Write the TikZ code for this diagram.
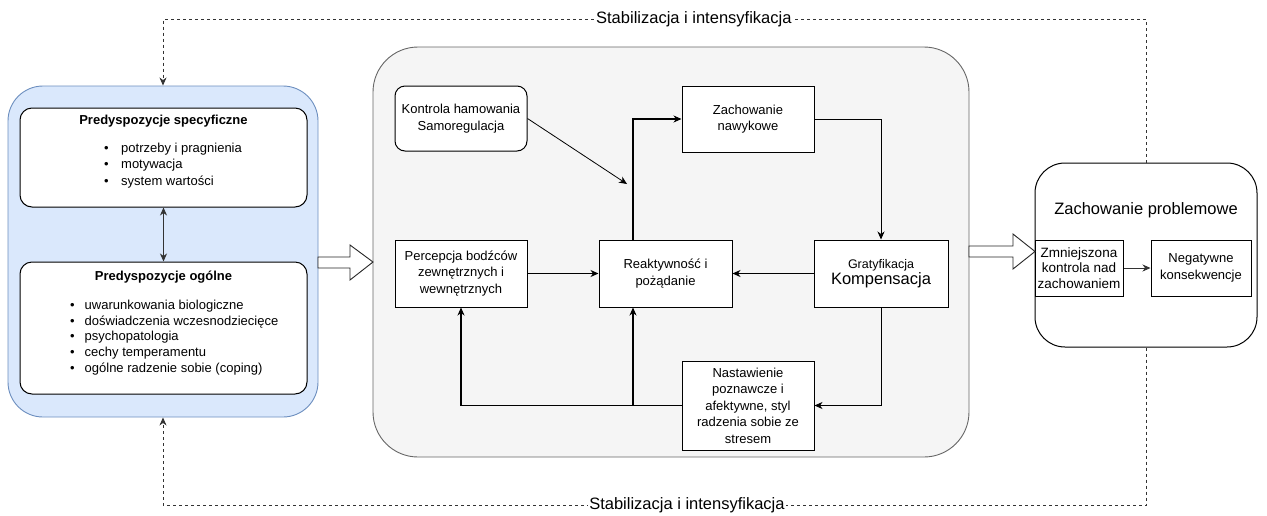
\documentclass[tikz,border=0pt]{standalone}
\usepackage{fontspec}
\setmainfont{Liberation Sans}
\usetikzlibrary{arrows.meta,calc}
\definecolor{bluefill}{HTML}{DAE8FC}
\definecolor{bluedraw}{HTML}{6C8EBF}
\definecolor{grayfill}{HTML}{F5F5F5}
\definecolor{graydraw}{HTML}{666666}
\newcommand{\blt}{\makebox[17pt][l]{•}}
\newcommand{\bltb}{\makebox[14.5pt][l]{•}}
\begin{document}
\begin{tikzpicture}[x=1pt,y=-1pt,
  every node/.style={font=\fontsize{13}{16.5}\selectfont, inner sep=0pt, align=center},
  sq/.style={draw=black, fill=white, line width=1pt},
  rbox/.style={draw=black, fill=white, line width=1pt, rounded corners=12pt},
  tip/.style={-{Stealth[length=8pt,width=7pt,inset=2.5pt]}},
  flow/.style={tip, line width=1.1pt},
  thinflow/.style={tip, line width=0.8pt},
  fb/.style={line width=0.9pt, black!80, dash pattern=on 3pt off 3pt, tip},
  fblabel/.style={fill=white, inner xsep=1pt, inner ysep=2pt, text=black, font=\fontsize{16.5}{19}\selectfont},
  hollow/.style={draw=black!85, fill=white, line width=0.9pt, line join=miter},
  big/.style={font=\fontsize{16.5}{19}\selectfont}
]
\useasboundingbox (0,0) rectangle (1267,515);

% left container
\node[draw=bluedraw, fill=bluefill, line width=0.9pt, rounded corners=35pt,
      minimum width=310pt, minimum height=331pt] (pre) at (163,251.5) {};
\node[rbox, minimum width=287pt, minimum height=99pt] (spec) at (163.5,157.5) {};
\node[font=\bfseries\fontsize{13}{16}\selectfont] (spect) at (163.5,121) {Predyspozycje specyficzne};
\node[anchor=west, align=left] (specl) at (104,165.5)
  {\blt potrzeby i pragnienia\\\blt motywacja\\\blt system wartości};
\node[rbox, minimum width=287pt, minimum height=132pt] (ogol) at (163.5,328) {};
\node[font=\bfseries\fontsize{13}{16}\selectfont] (ogolt) at (163.5,277) {Predyspozycje ogólne};
\node[anchor=west, align=left, font=\fontsize{13}{15.75}\selectfont] (ogoll) at (70,337.5)
  {\bltb uwarunkowania biologiczne\\\bltb doświadczenia wczesnodziecięce\\\bltb psychopatologia\\\bltb cechy temperamentu\\\bltb ogólne radzenie sobie (coping)};
\draw[line width=0.9pt, black!80, {Stealth[length=8pt,width=7pt,inset=2.5pt]}-{Stealth[length=8pt,width=7pt,inset=2.5pt]}]
  (spec.south) -- (ogol.north);

% middle container
\node[draw=graydraw, fill=grayfill, line width=0.9pt, rounded corners=45pt,
      minimum width=596pt, minimum height=410pt] (gray) at (671,252) {};
\node[rbox, rounded corners=10pt, minimum width=132pt, minimum height=65pt] (kontr) at (461,118.5)
  {Kontrola hamowania\\Samoregulacja};
\node[sq, minimum width=132pt, minimum height=66pt] (nawyk) at (748,119) {Zachowanie\\nawykowe};
\node[sq, minimum width=132pt, minimum height=67pt] (perc) at (461,273.5)
  {Percepcja bodźców\\zewnętrznych i\\wewnętrznych};
\node[sq, minimum width=133pt, minimum height=67pt] (reak) at (665.5,273.5) {Reaktywność i\\pożądanie};
\node[sq, minimum width=134pt, minimum height=67pt] (grat) at (881,273.5)
  {{\fontsize{12.5}{15}\selectfont Gratyfikacja}\\{\fontsize{16.5}{19}\selectfont Kompensacja}};
\node[sq, minimum width=132pt, minimum height=89pt] (nast) at (748,405.5)
  {Nastawienie\\poznawcze i\\afektywne, styl\\radzenia sobie ze\\stresem};

\coordinate (jx) at (633,405.5);
\coordinate (ka) at (627,184);
\draw[thinflow] (kontr.east) -- (ka);
\draw[flow] (reak.north -| jx) |- (nawyk.west);
\draw[thinflow] (nawyk.east) -| (grat.north);
\draw[flow] (grat.west) -- (reak.east);
\draw[flow] (perc.east) -- (reak.west);
\draw[thinflow] (grat.south) |- (nast.east);
\draw[flow] (nast.west) -| (perc.south);
\draw[flow] (jx) -- (reak.south -| jx);

% right container
\node[draw=black, fill=white, line width=1pt, rounded corners=30pt,
      minimum width=222pt, minimum height=184pt] (prob) at (1146,255) {};
\node[big] (probt) at (1146,210) {Zachowanie problemowe};
\node[sq, minimum width=88pt, minimum height=56pt, font=\fontsize{13.5}{15.5}\selectfont] (zmn) at (1079,268)
  {Zmniejszona\\kontrola nad\\zachowaniem};
\node[sq, minimum width=100pt, minimum height=56pt] (neg) at (1201,268) {Negatywne\\konsekwencje};
\draw[line width=0.9pt, black!80, tip] (zmn.east) -- (neg.west);

% hollow block arrows
\draw[hollow] (318,257) -- (350,257) -- (350,245) -- (373,262) -- (350,280) -- (350,268) -- (318,268) -- cycle;
\draw[hollow] (969,246) -- (1013,246) -- (1013,234) -- (1035,251.5) -- (1013,269) -- (1013,257) -- (969,257) -- cycle;

% feedback loops
\coordinate (tr) at (1146,19);
\coordinate (tl) at (163,19);
\coordinate (br) at (1146,505);
\coordinate (bl) at (163,505);
\draw[fb] (prob.north) -- (tr) -- node[pos=0.46, fblabel] (lt) {Stabilizacja i intensyfikacja} (tl) -- (pre.north);
\draw[fb] (prob.south) -- (br) -- node[pos=0.467, fblabel] (lb) {Stabilizacja i intensyfikacja} (bl) -- (pre.south);
\end{tikzpicture}
\end{document}
